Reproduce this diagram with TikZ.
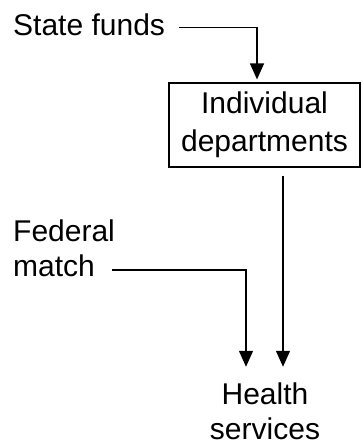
\documentclass[tikz,border=0pt]{standalone}
\usepackage{fontspec}
\setmainfont{Liberation Sans}
\usetikzlibrary{arrows.meta}
\begin{document}
\begin{tikzpicture}[x=1pt,y=1pt,
    lbl/.style={inner sep=0pt, font=\fontsize{30}{35}\selectfont},
    dbox/.style={draw, line width=1.2pt, minimum width=191pt, minimum height=84pt,
      inner sep=0pt, align=center, font=\fontsize{30}{38}\selectfont},
    flow/.style={line width=1.3pt, -{Triangle[length=16pt,width=14pt]}}]
  \useasboundingbox (0,0) rectangle (362,446);

  % sources, the department box and the destination
  \node[lbl, anchor=base west] (sf) at (13,410) {State funds};
  \node[dbox] (dept) at (264.5,321) {Individual\\departments};
  \node[lbl, align=left, anchor=base west] (fm) at (13,169) {Federal\\match};
  \node[lbl, align=center] (hs) at (265,34.5) {Health\\services};

  % money flows
  \coordinate (fmout) at (112,176);
  \draw[flow, shorten <=14pt, shorten >=3pt]
    ([yshift=-2.5pt]sf.east) -| ([xshift=-7.5pt]dept.north);
  \draw[flow] (fmout) -| ([xshift=-19pt,yshift=16pt]hs.north);
  \draw[flow, shorten <=8pt]
    ([xshift=18.5pt]dept.south) -- ([xshift=18pt,yshift=16pt]hs.north);
\end{tikzpicture}
\end{document}
